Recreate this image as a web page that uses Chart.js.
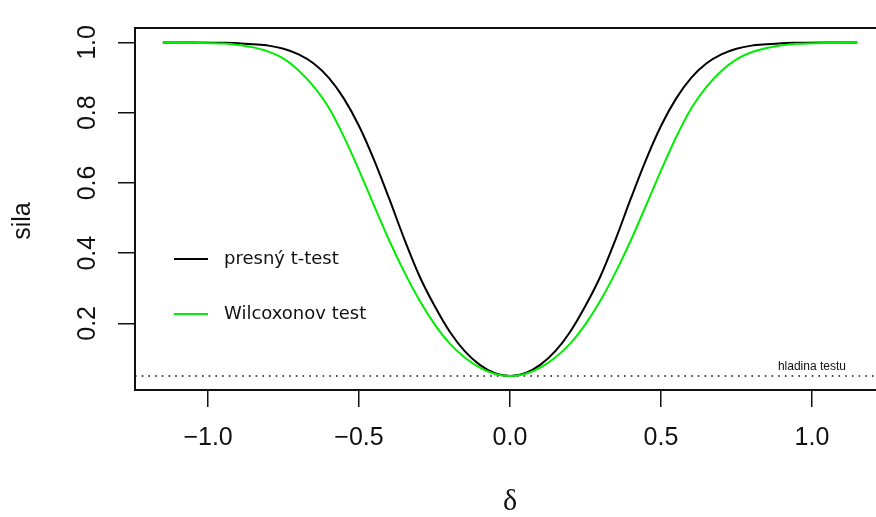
<!DOCTYPE html>
<html>
<head>
<meta charset="utf-8">
<script src="https://cdn.jsdelivr.net/npm/chart.js@4"></script>
<style>
  html, body { margin: 0; padding: 0; background: #fff; overflow: hidden; }
  #box { width: 885px; height: 517px; }
</style>
</head>
<body>
<div id="box"><canvas id="grafico" width="885" height="517"></canvas></div>
<script>
// dados
var delta = [-1.15, -1.05, -0.95, -0.9, -0.85, -0.8, -0.75, -0.7, -0.65, -0.6, -0.55, -0.5, -0.45, -0.4, -0.35, -0.3, -0.25, -0.2, -0.15, -0.1, -0.05,
    0, 0.05, 0.1, 0.15, 0.2, 0.25, 0.3, 0.35, 0.4, 0.45, 0.5, 0.55, 0.6, 0.65, 0.7, 0.75, 0.8, 0.85, 0.9, 0.95, 1.05, 1.15];
var silaT = [1.000, 1.000, 0.999, 0.998, 0.995, 0.991, 0.982, 0.966, 0.940, 0.899, 0.840, 0.762, 0.665, 0.555, 0.440, 0.335, 0.250, 0.177, 0.121, 0.082, 0.058,
    0.050, 0.058, 0.082, 0.121, 0.177, 0.250, 0.335, 0.440, 0.555, 0.665, 0.762, 0.840, 0.899, 0.940, 0.966, 0.982, 0.991, 0.995, 0.998, 0.999, 1.000, 1.000];
var silaW = [1.000, 0.999, 0.997, 0.993, 0.986, 0.974, 0.954, 0.920, 0.874, 0.814, 0.731, 0.636, 0.535, 0.436, 0.346, 0.266, 0.198, 0.143, 0.103, 0.074, 0.056,
    0.050, 0.056, 0.074, 0.103, 0.143, 0.198, 0.266, 0.346, 0.436, 0.535, 0.635, 0.730, 0.812, 0.873, 0.919, 0.952, 0.972, 0.984, 0.992, 0.996, 0.999, 1.000];
var hladina = 0.05;
var legendaNomes = ['presný t-test', 'Wilcoxonov test'];
var ticksX = [-1.0, -0.5, 0.0, 0.5, 1.0];
var ticksY = [0.2, 0.4, 0.6, 0.8, 1.0];
var limX = [-1.242, 1.242];
var limY = [0.0103, 1.0412];

var corT = '#000000';
var corW = '#00ee00';

function pontos(xs, ys) {
    return xs.map((x, i) => ({ x: x, y: ys[i] }));
}

const extras = {
    id: 'extras',
    afterDraw(chart) {
        const ctx = chart.ctx;
        const a = chart.chartArea;
        const sx = chart.scales.x;
        const sy = chart.scales.y;
        ctx.save();
        // caixa
        ctx.strokeStyle = '#111';
        ctx.lineWidth = 2;
        ctx.strokeRect(a.left, a.top, a.right - a.left, a.bottom - a.top);

        // legenda
        const cores = [corT, corW];
        const ys = [259, 314];
        ctx.font = '18px "DejaVu Sans"';
        ctx.textBaseline = 'middle';
        ctx.textAlign = 'left';
        legendaNomes.forEach((nome, i) => {
            ctx.strokeStyle = cores[i];
            ctx.lineWidth = 2;
            ctx.beginPath();
            ctx.moveTo(174, ys[i]);
            ctx.lineTo(208, ys[i]);
            ctx.stroke();
            ctx.fillStyle = '#111';
            ctx.fillText(nome, 224, ys[i]);
        });

        // hladina testu
        ctx.font = '12px "Liberation Sans"';
        ctx.textAlign = 'center';
        ctx.textBaseline = 'bottom';
        ctx.fillStyle = '#111';
        ctx.fillText('hladina testu', sx.getPixelForValue(1.0), sy.getPixelForValue(hladina) - 3);

        // titulo eixo y
        ctx.translate(23, 221);
        ctx.rotate(-Math.PI / 2);
        ctx.font = '25px "Liberation Sans"';
        ctx.textAlign = 'center';
        ctx.textBaseline = 'middle';
        ctx.fillText('sila', 0, 0);
        ctx.restore();
    }
};

new Chart(document.getElementById('grafico'), {
    type: 'line',
    data: {
        datasets: [
            {
                label: legendaNomes[0],
                data: pontos(delta, silaT),
                borderColor: corT,
                borderWidth: 2,
                pointRadius: 0,
                cubicInterpolationMode: 'monotone',
                order: 2
            },
            {
                label: legendaNomes[1],
                data: pontos(delta, silaW),
                borderColor: corW,
                borderWidth: 2,
                pointRadius: 0,
                cubicInterpolationMode: 'monotone',
                order: 1
            },
            {
                label: 'hladina',
                data: pontos(limX, [hladina, hladina]),
                borderColor: '#111',
                borderWidth: 1.6,
                borderDash: [1.6, 5.1],
                pointRadius: 0,
                order: 3
            }
        ]
    },
    options: {
        responsive: false,
        animation: false,
        layout: { padding: { top: 15, left: 0, right: 0, bottom: 0 } },
        plugins: {
            legend: { display: false },
            tooltip: { enabled: false }
        },
        scales: {
            x: {
                type: 'linear',
                min: limX[0],
                max: limX[1],
                afterBuildTicks: s => { s.ticks = ticksX.map(v => ({ value: v })); },
                afterFit: s => { s.height = 127; },
                border: { display: false },
                grid: { drawOnChartArea: false, drawTicks: true, tickLength: 17, color: '#111', lineWidth: 1.5 },
                ticks: {
                    padding: 16,
                    color: '#111',
                    font: { family: 'Liberation Sans', size: 25 },
                    maxRotation: 0,
                    callback: v => (v < 0 ? '\u2212' : '') + Math.abs(v).toFixed(1)
                },
                title: {
                    display: true,
                    text: 'δ',
                    color: '#111',
                    font: { family: 'Liberation Serif', size: 30, lineHeight: 1 },
                    padding: { top: 0, bottom: 0 }
                }
            },
            y: {
                type: 'linear',
                min: limY[0],
                max: limY[1],
                afterBuildTicks: s => { s.ticks = ticksY.map(v => ({ value: v })); },
                afterFit: s => { s.width = 135; },
                border: { display: false },
                grid: { drawOnChartArea: false, drawTicks: true, tickLength: 17, color: '#111', lineWidth: 1.5 },
                ticks: {
                    padding: 13,
                    color: '#111',
                    minRotation: 90,
                    maxRotation: 90,
                    crossAlign: 'center',
                    font: { family: 'Liberation Sans', size: 25 },
                    callback: v => v.toFixed(1)
                }
            }
        }
    },
    plugins: [extras]
});
</script>
</body>
</html>
